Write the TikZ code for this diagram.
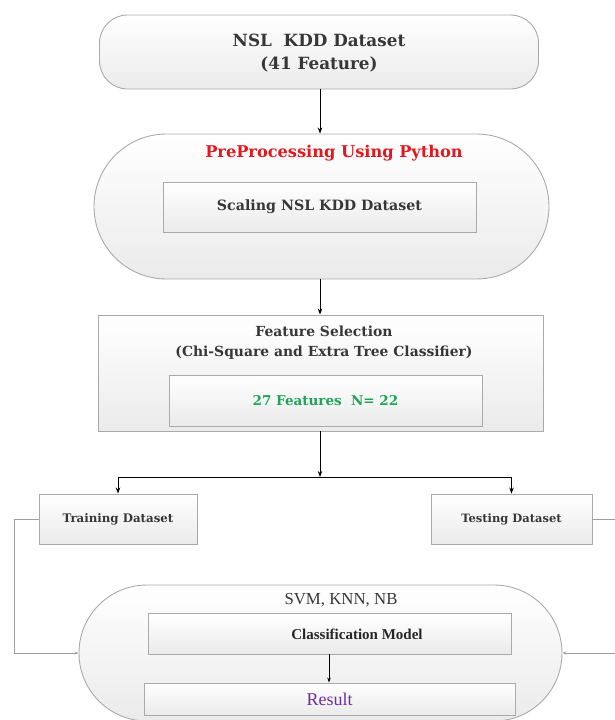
\documentclass[tikz,border=0pt]{standalone}
\usepackage{fontspec}
\setmainfont{DejaVu Serif}
\newfontfamily\lib{Liberation Serif}
\usetikzlibrary{shapes.misc,arrows.meta}
\definecolor{txt}{RGB}{55,55,55}
\definecolor{bord}{RGB}{170,170,170}
\definecolor{myred}{RGB}{225,25,30}
\definecolor{mygreen}{RGB}{30,165,85}
\definecolor{mypurple}{RGB}{110,45,160}
\tikzset{
  pill/.style={rounded rectangle, draw=bord, line width=0.9pt, top color=white, bottom color=gray!16, inner sep=0pt},
  rbox/.style={rectangle, draw=bord, line width=0.9pt, top color=white, bottom color=gray!16, inner sep=0pt, text=txt},
  lbl/.style={inner sep=0pt, text=txt},
  arr/.style={-{Stealth[length=6pt,width=4.5pt]}, line width=0.8pt, black},
  side/.style={draw=gray!75, line width=0.8pt, -{Stealth[length=4pt,width=3pt]}},
}
\begin{document}
\begin{tikzpicture}[x=1pt,y=-1pt]
\useasboundingbox (0,0) rectangle (614,720);
% top
\node[rbox, rounded corners=28pt, minimum width=439pt, minimum height=74pt] (src) at (319,52) {};
\node[lbl, align=center, font=\bfseries\fontsize{16.8}{23}\selectfont] (srct) at (319,53) {NSL\ \ KDD Dataset\\(41 Feature)};
% preprocessing
\node[pill, minimum width=455pt, minimum height=145pt] (pre) at (321.5,206.5) {};
\node[lbl, text=myred, font=\bfseries\fontsize{16.2}{20}\selectfont] (pret) at (334,153) {PreProcessing Using Python};
\node[rbox, minimum width=313pt, minimum height=50pt, font=\bfseries\fontsize{14.2}{18}\selectfont] (scale) at (319.5,207) {Scaling NSL KDD Dataset};
% feature selection
\node[rbox, minimum width=445pt, minimum height=116pt] (feat) at (320.5,373) {};
\node[lbl, align=center, font=\bfseries\fontsize{13.9}{20}\selectfont] (featt) at (324,343) {Feature Selection\\(Chi-Square and Extra Tree Classifier)};
\node[rbox, minimum width=313pt, minimum height=51pt, text=mygreen, font=\bfseries\fontsize{13.5}{18}\selectfont] (sel) at (325.5,400.5) {27 Features\ \ N= 22};
% split
\coordinate (j) at (320,477);
\node[rbox, minimum width=158pt, minimum height=50pt, font=\bfseries\fontsize{11.8}{14}\selectfont] (train) at (118,519) {Training Dataset};
\node[rbox, minimum width=161pt, minimum height=50pt, font=\bfseries\fontsize{11.5}{14}\selectfont] (test) at (511.5,519) {Testing Dataset};
% classification
\node[pill, minimum width=483pt, minimum height=136pt] (bot) at (320.5,653) {};
\node[lbl, font=\lib\fontsize{16.8}{18}\selectfont] (algs) at (341,600) {SVM, KNN, NB};
\node[rbox, minimum width=363pt, minimum height=41pt] (cls) at (329.5,633.5) {};
\node[lbl, text=black!85, font=\lib\bfseries\fontsize{15}{16}\selectfont] (clst) at (357,634) {Classification Model};
\node[rbox, minimum width=371pt, minimum height=32pt, text=mypurple, font=\lib\fontsize{18}{18}\selectfont] (res) at (329.5,699) {Result};
% connectors
\coordinate (ax) at (329,0);
\draw[arr] (src.south -| j) -- (pre.north -| j);
\draw[arr] (pre.south -| j) -- (feat.north -| j);
\draw[arr] (feat.south -| j) -- (j);
\draw[arr] (j) -| (train.north);
\draw[arr] (j) -| (test.north);
\coordinate (lc) at (14,519);
\coordinate (rc) at (640,519);
\draw[side] (train.west) -- (lc) |- (bot.west);
\draw[side] (test.east) -- (rc) |- (bot.east);
\draw[arr, line width=0.7pt, -{Stealth[length=5pt,width=3.5pt]}] (cls.south -| ax) -- (res.north -| ax);
\end{tikzpicture}
\end{document}
